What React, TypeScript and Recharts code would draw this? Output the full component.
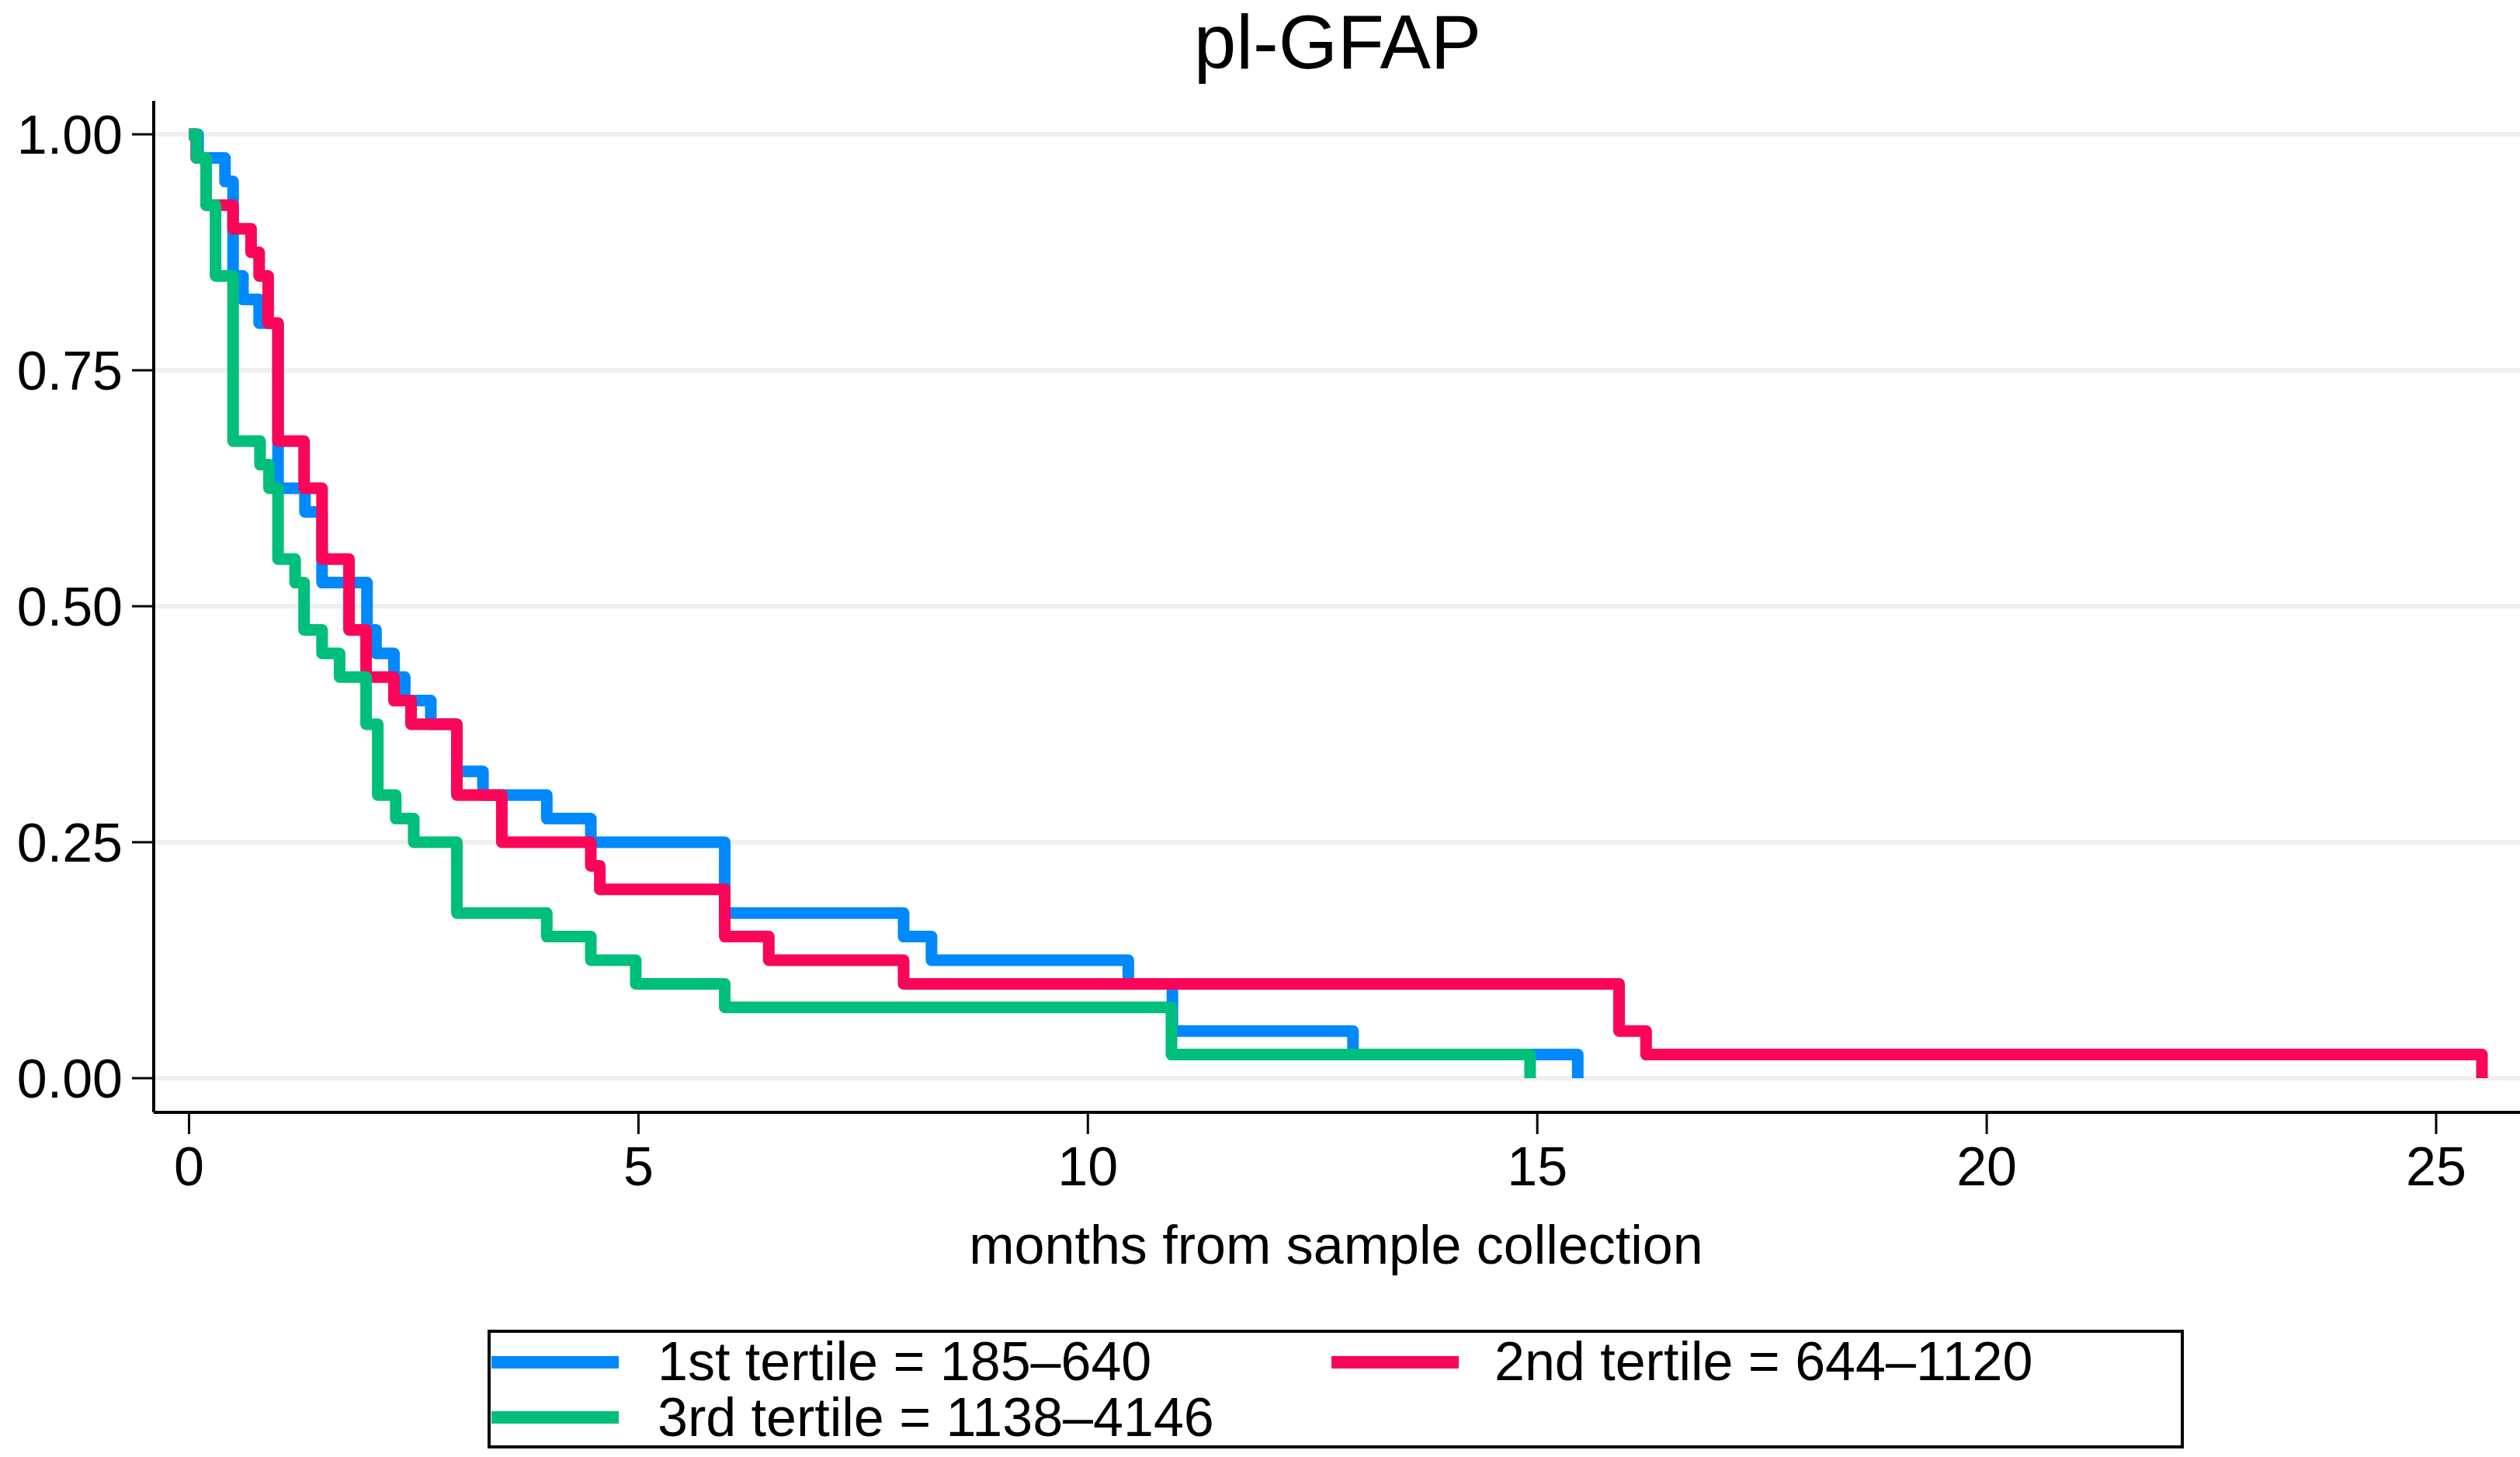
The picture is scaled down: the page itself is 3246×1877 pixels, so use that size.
import { LineChart, Line, XAxis, YAxis, CartesianGrid } from 'recharts';

// Kaplan-Meier steps: time (months) and survival after that time
const blueTimes = [0, 0.1, 0.4, 0.49, 0.6, 0.78, 0.99, 1.29, 1.48, 1.98, 2.08, 2.28, 2.4, 2.69, 2.98, 3.27, 3.98, 4.47, 5.96, 7.95, 8.26, 10.45, 10.94, 12.95, 15.45];
const blueSurv = [1, 0.975, 0.95, 0.85, 0.825, 0.8, 0.625, 0.6, 0.525, 0.475, 0.45, 0.425, 0.4, 0.375, 0.325, 0.3, 0.275, 0.25, 0.175, 0.15, 0.125, 0.1, 0.05, 0.025, 0];

const redTimes = [0, 0.08, 0.19, 0.49, 0.69, 0.78, 0.88, 0.99, 1.28, 1.48, 1.78, 1.97, 2.28, 2.47, 2.98, 3.48, 4.47, 4.57, 5.96, 6.45, 7.95, 15.91, 16.21, 25.51];
const redSurv = [1, 0.975, 0.925, 0.9, 0.875, 0.85, 0.8, 0.675, 0.625, 0.55, 0.475, 0.425, 0.4, 0.375, 0.3, 0.25, 0.225, 0.2, 0.15, 0.125, 0.1, 0.05, 0.025, 0];

const greenTimes = [0, 0.085, 0.19, 0.295, 0.49, 0.79, 0.89, 0.99, 1.18, 1.28, 1.48, 1.675, 1.97, 2.1, 2.3, 2.5, 2.98, 3.98, 4.47, 4.97, 5.96, 10.93, 14.92];
const greenSurv = [1, 0.975, 0.925, 0.85, 0.675, 0.65, 0.625, 0.55, 0.525, 0.475, 0.45, 0.425, 0.375, 0.3, 0.275, 0.25, 0.175, 0.15, 0.125, 0.1, 0.075, 0.025, 0];

const seriesNames = ['1st tertile = 185\u2013640', '2nd tertile = 644\u20131120', '3rd tertile = 1138\u20134146'];
const xTicks = [0, 5, 10, 15, 20, 25];
const yTicks = [0, 0.25, 0.5, 0.75, 1];

const BLUE = '#0088ff';
const RED = '#fb0558';
const GREEN = '#00bf7a';
const FONT = '"Liberation Sans", Arial, Helvetica, sans-serif';

const toPoints = (times: number[], surv: number[]) => times.map((t, i) => ({ t, s: surv[i] }));

const series = [
  { name: seriesNames[0], color: BLUE, data: toPoints(blueTimes, blueSurv) },
  { name: seriesNames[1], color: RED, data: toPoints(redTimes, redSurv) },
  { name: seriesNames[2], color: GREEN, data: toPoints(greenTimes, greenSurv) },
];

const tickStyle = { fill: '#000', fontSize: 70, fontFamily: FONT };

export default function App() {
  return (
    <div style={{ position: 'absolute', left: 0, top: 0, width: 3246, height: 1877, background: '#fff', overflow: 'hidden', fontFamily: FONT }}>
      <div style={{ position: 'absolute', left: 0, top: 5, width: 3446, textAlign: 'center', fontSize: 98, lineHeight: '98px', color: '#000' }}>
        pl-GFAP
      </div>

      <LineChart width={3246} height={1877} margin={{ top: 130, right: 0, bottom: 324, left: 0 }}>
        <CartesianGrid vertical={false} horizontalValues={yTicks} stroke="#efefef" strokeWidth={6} />
        <XAxis
          type="number"
          dataKey="t"
          domain={[-0.393, 25.933]}
          ticks={xTicks}
          interval={0}
          allowDataOverflow
          height={120}
          axisLine={{ stroke: '#000', strokeWidth: 4 }}
          tickLine={{ stroke: '#000', strokeWidth: 3 }}
          tickSize={28}
          tickMargin={16}
          tick={tickStyle}
        />
        <YAxis
          type="number"
          domain={[-0.0362, 1.0354]}
          ticks={yTicks}
          interval={0}
          allowDataOverflow
          width={198}
          tickFormatter={(v: number) => v.toFixed(2)}
          axisLine={{ stroke: '#000', strokeWidth: 4 }}
          tickLine={{ stroke: '#000', strokeWidth: 3 }}
          tickSize={28}
          tickMargin={12}
          tick={tickStyle}
        />
        {series.map((s) => (
          <Line
            key={s.name}
            data={s.data}
            dataKey="s"
            name={s.name}
            type="stepAfter"
            stroke={s.color}
            strokeWidth={15}
            strokeLinejoin="round"
            strokeLinecap="butt"
            dot={false}
            activeDot={false}
            isAnimationActive={false}
          />
        ))}
      </LineChart>

      <div style={{ position: 'absolute', left: 0, top: 1569, width: 3442, textAlign: 'center', fontSize: 70, lineHeight: '70px', color: '#000' }}>
        months from sample collection
      </div>

      <div style={{ position: 'absolute', left: 628, top: 1713, width: 2185, height: 153, border: '4px solid #000', boxSizing: 'border-box' }} />
      {series.map((s, i) => {
        const col = i === 1 ? 1 : 0;
        const row = i === 2 ? 1 : 0;
        const swatchLeft = col === 0 ? 633 : 1715;
        const textLeft = col === 0 ? 847 : 1925;
        return (
          <div key={s.name}>
            <div style={{ position: 'absolute', left: swatchLeft, top: row === 0 ? 1747 : 1818, width: 164, height: 16, background: s.color }} />
            <div style={{ position: 'absolute', left: textLeft, top: row === 0 ? 1719 : 1791, fontSize: 70, lineHeight: '70px', whiteSpace: 'nowrap', color: '#000' }}>
              {s.name}
            </div>
          </div>
        );
      })}
    </div>
  );
}
